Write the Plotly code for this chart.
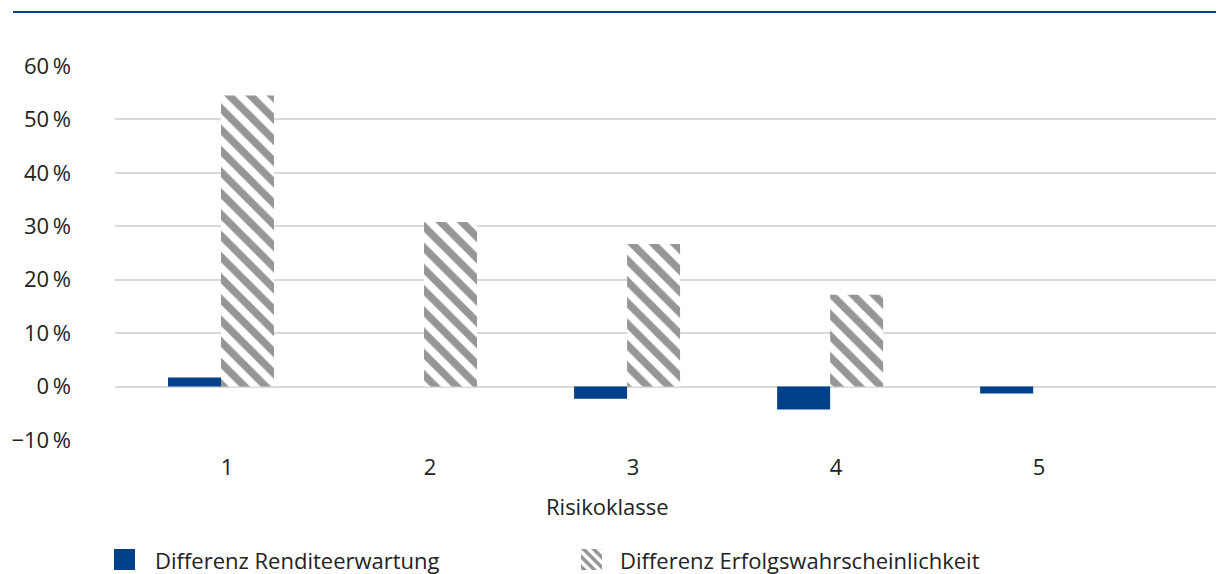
import plotly.graph_objects as go

categories = [1, 2, 3, 4, 5]
category_labels = ["1", "2", "3", "4", "5"]
rendite = [1.7, 0.0, -2.3, -4.3, -1.3]
erfolg = [54.5, 30.8, 26.7, 17.2, 0.0]
y_ticks = [-10, 0, 10, 20, 30, 40, 50, 60]
y_tick_labels = ["\u221210\u2009%", "0\u2009%", "10\u2009%", "20\u2009%", "30\u2009%", "40\u2009%", "50\u2009%", "60\u2009%"]
series_names = ["Differenz Renditeerwartung", "Differenz Erfolgswahrscheinlichkeit"]

BLUE = "#00408A"
GREY = "#969696"
FONT = "Open Sans, Roboto, Arial, sans-serif"
FS = 22
TXT = "#222222"

# page offset compensation (body margin 8px)
W, H = 1216, 566
ML, MR, MT, MB = 107, 2, 58, 134
PW = W - ML - MR
PH = H - MT - MB


def px(x):  # reference-page pixel -> paper x
    return (x - 8 - ML) / PW


def py(y):  # reference-page pixel -> paper y
    return (H - MB - (y - 8)) / PH


fig = go.Figure()
fig.add_trace(go.Bar(
    x=categories, y=rendite, name=series_names[0],
    marker=dict(color=BLUE, line=dict(width=0)), showlegend=False,
))
fig.add_trace(go.Bar(
    x=categories, y=erfolg, name=series_names[1], showlegend=False,
    marker=dict(color="white", line=dict(width=0),
                pattern=dict(shape="\\", fgcolor=GREY, bgcolor="white", fgopacity=1,
                             size=15, solidity=0.5, fillmode="overlay")),
))


def clip(poly, a, b, c):
    out = []
    n = len(poly)
    for i in range(n):
        p, q = poly[i], poly[(i + 1) % n]
        fp = a * p[0] + b * p[1] - c
        fq = a * q[0] + b * q[1] - c
        if fp <= 0:
            out.append(p)
        if (fp < 0 < fq) or (fq < 0 < fp):
            t = fp / (fp - fq)
            out.append((p[0] + t * (q[0] - p[0]), p[1] + t * (q[1] - p[1])))
    return out


shapes = [dict(type="line", xref="paper", yref="paper",
               x0=px(13), x1=px(1226), y0=py(12), y1=py(12),
               line=dict(color=BLUE, width=2.2))]

# legend icon 1: blue square
shapes.append(dict(type="rect", xref="paper", yref="paper",
                   x0=px(114), x1=px(135), y0=py(570), y1=py(549),
                   fillcolor=BLUE, line=dict(width=0)))

# legend icon 2: hatched square
S = 21
ox, oy = 581, 549
period, sw = 10, 5
for c0 in range(-30, 30, period):
    box = [(0, 0), (S, 0), (S, S), (0, S)]
    poly = clip(box, -1, 1, -c0)        # u - v >= c0
    poly = clip(poly, 1, -1, c0 + sw)   # u - v <= c0 + sw
    if len(poly) >= 3:
        path = "M " + " L ".join(f"{px(ox + u):.5f},{py(oy + v):.5f}" for u, v in poly) + " Z"
        shapes.append(dict(type="path", xref="paper", yref="paper", path=path,
                           fillcolor=GREY, line=dict(width=0)))

annotations = [
    dict(text="Risikoklasse", xref="paper", yref="paper", x=px(607), y=py(506),
         xanchor="center", yanchor="middle", showarrow=False,
         font=dict(family=FONT, size=FS, color=TXT)),
    dict(text=series_names[0], xref="paper", yref="paper", x=px(153), y=py(560),
         xanchor="left", yanchor="middle", showarrow=False,
         font=dict(family=FONT, size=FS, color=TXT)),
    dict(text=series_names[1], xref="paper", yref="paper", x=px(618), y=py(560),
         xanchor="left", yanchor="middle", showarrow=False,
         font=dict(family=FONT, size=FS, color=TXT)),
]

fig.update_layout(
    width=W, height=H,
    margin=dict(l=ML, r=MR, t=MT, b=MB),
    paper_bgcolor="white", plot_bgcolor="white",
    barmode="group", bargap=0.478, bargroupgap=0,
    font=dict(family=FONT, size=FS, color=TXT),
    showlegend=False,
    xaxis=dict(range=[0.478, 5.93], tickvals=categories, ticktext=category_labels,
               showgrid=False, zeroline=False, showline=False, ticks="",
               ticklabelstandoff=12, ticklabelshift=6,
               tickfont=dict(family=FONT, size=FS, color=TXT)),
    yaxis=dict(range=[-10, 60], tickvals=y_ticks, ticktext=y_tick_labels,
               showgrid=True, gridcolor="#D9D9D9", gridwidth=1.5,
               zeroline=False, showline=False, ticks="",
               ticklabelstandoff=43,
               tickfont=dict(family=FONT, size=FS, color=TXT)),
    shapes=shapes,
    annotations=annotations,
)

fig.write_html("out.html")
